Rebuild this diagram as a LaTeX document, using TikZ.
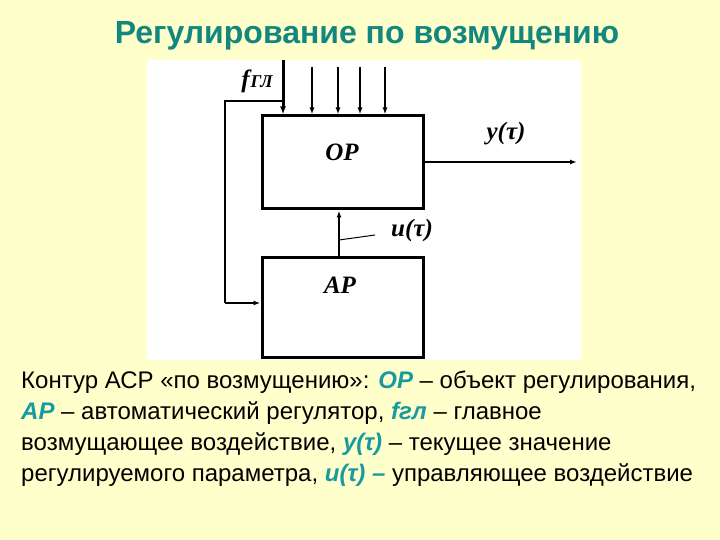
\documentclass[tikz,border=0pt]{standalone}
\usepackage{fontspec}
\setmainfont{Liberation Sans}
\newfontfamily\tms{Liberation Serif}
\usetikzlibrary{arrows.meta}
\definecolor{bg}{HTML}{FFFFCC}
\definecolor{teal1}{HTML}{13877F}
\definecolor{teal2}{HTML}{1A9AA0}
\begin{document}
\begin{tikzpicture}[x=1pt,y=-1pt,
  blk/.style={draw,line width=3pt,inner sep=0pt},
  ar/.style={-{Latex[length=7pt,width=5pt]},line width=1.4pt},
  lbl/.style={font=\tms\bfseries\itshape\fontsize{25}{27}\selectfont,inner sep=0pt}]
\fill[bg] (0,0) rectangle (720,540);
\useasboundingbox (0,0) rectangle (720,540);
\fill[white] (147,60) rectangle (581,360);
\node[font=\bfseries\fontsize{32}{35}\selectfont,text=teal1] (title) at (367,36) {Регулирование по возмущению};
\node[blk,minimum width=161pt,minimum height=93pt] (op) at (342.5,162.5) {};
\node[blk,minimum width=161pt,minimum height=100pt] (ap) at (342.5,307) {};
\node[lbl] (opl) at (342,152) {OP};
\node[lbl] (apl) at (340,285) {AP};
\coordinate (f0) at (283,60);
\coordinate (fj) at (283,101);
\draw[-{Latex[length=8pt,width=6pt]},line width=3pt] (f0) -- (op.north -| f0);
\node[lbl] (fl) at (257,81) {f\kern1pt{\fontsize{18}{20}\selectfont ГЛ}};
\foreach \xx [count=\i] in {312,338,360,385}{
  \coordinate (d\i) at (\xx,67);
  \draw[ar] (d\i) -- (op.north -| d\i);
}
\coordinate (c1) at (225,101);
\coordinate (c2) at (225,303);
\draw[line width=2.4pt] (fj) -- (c1) -- (c2);
\draw[ar,line width=2.4pt] (c2) -- (ap.west |- c2);
\coordinate (out) at (577,162);
\draw[ar,line width=2pt] (op.east |- out) -- (out);
\node[lbl] (yl) at (506,134) {y(τ)};
\coordinate (ua) at (339,257);
\draw[ar,line width=2.4pt] (ua) -- (op.south -| ua);
\node[lbl] (ul) at (412,230) {u(τ)};
\coordinate (t1) at (339,240);
\coordinate (t2) at (375,235);
\draw[line width=1pt] (t1) -- (t2);
\node[anchor=north west,align=left,inner sep=0pt,font=\fontsize{24}{31}\selectfont] (txt) at (21,371) {Контур АСР «по возмущению»: \textcolor{teal2}{\textbf{\textit{ОР}}} – объект регулирования,\\
\textcolor{teal2}{\textbf{\textit{АР}}} – автоматический регулятор, \textcolor{teal2}{\textbf{\textit{fгл}}} – главное\\
возмущающее воздействие, \textcolor{teal2}{\textbf{\textit{y(τ)}}} – текущее значение\\
регулируемого параметра, \textcolor{teal2}{\textbf{\textit{u(τ) –}}} управляющее воздействие};
\end{tikzpicture}
\end{document}
